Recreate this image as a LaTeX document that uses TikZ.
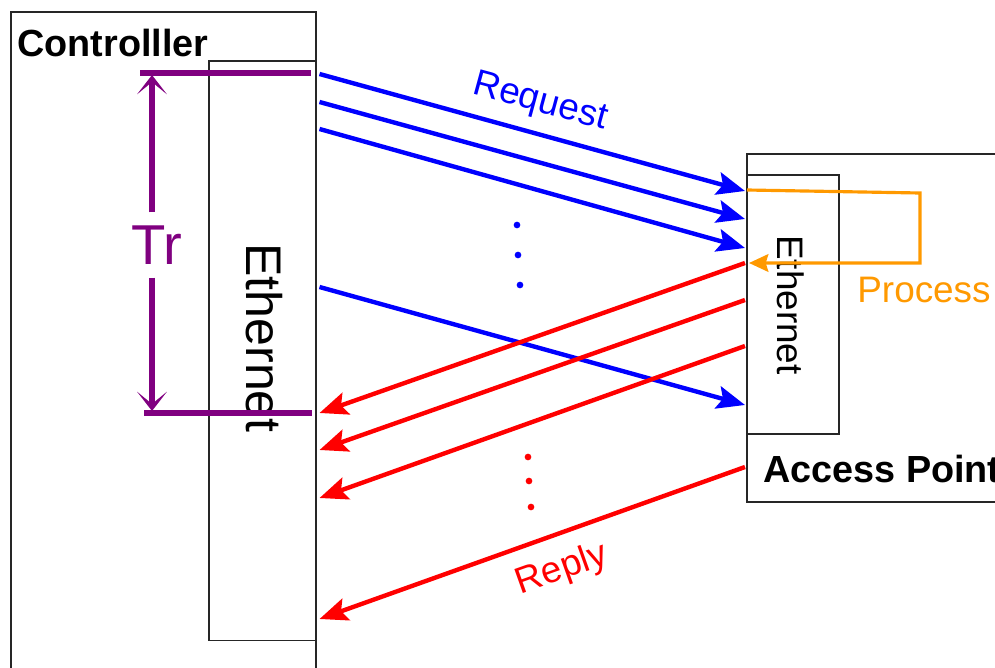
\documentclass[tikz,border=0pt]{standalone}
\usepackage{fontspec}
\setmainfont{Liberation Sans}
\usetikzlibrary{positioning}
\usetikzlibrary{arrows.meta}
\usetikzlibrary{calc}
\definecolor{reqcolor}{RGB}{0,0,255}
\definecolor{repcolor}{RGB}{255,0,0}
\definecolor{trcolor}{RGB}{128,0,128}
\definecolor{proccolor}{RGB}{255,153,0}

\begin{document}
\begin{tikzpicture}[
    x=0.02cm, y=-0.02cm,
    box/.style={rectangle, draw=black!85, line width=0.9pt, inner sep=0pt},
    bigtext/.style={font=\fontsize{28.5}{30}\selectfont},
    midtext/.style={font=\fontsize{21}{24}\selectfont},
    boldtext/.style={font=\fontsize{21.5}{24}\selectfont\bfseries, inner sep=0pt},
    reqarrow/.style={-{Stealth[length=16pt, width=13pt, inset=3pt]}, line width=2.5pt, reqcolor},
    reparrow/.style={-{Stealth[length=16pt, width=13pt, inset=3pt]}, line width=2.5pt, repcolor},
    trline/.style={line width=3.8pt, trcolor},
    trarrow/.style={-{Stealth[length=11pt, width=17pt, inset=7pt]}, line width=3.8pt, trcolor},
    procarrow/.style={-{Stealth[length=11pt, width=10pt, inset=1.5pt]}, line width=1.8pt, proccolor},
    dot/.style={circle, fill, inner sep=0pt, minimum size=3.8pt}
]
\clip (0,0) rectangle (995,667);

% Controller side
\node[box, anchor=north west, minimum width=6.1cm, minimum height=14cm] (ctrl) at (10,11) {};
\node[box, anchor=north east, minimum width=2.14cm, minimum height=11.6cm] (eth1) at ([yshift=-0.98cm]ctrl.north east) {};
\node[boldtext] (ctrltxt) at (113,43) {Controlller};
\node[bigtext, rotate=-90, inner sep=0pt] (eth1txt) at (264,338) {Ethernet};

% Access point side
\node[box, anchor=north west, minimum width=5.1cm, minimum height=6.96cm] (ap) at (746,153) {};
\node[box, anchor=north west, minimum width=1.84cm, minimum height=5.18cm] (eth2) at ([yshift=-0.42cm]ap.north west) {};
\node[midtext, rotate=-90, inner sep=0pt] (eth2txt) at (791,305) {Ethernet};
\node[boldtext, anchor=west] (aptxt) at (763,469) {Access Point};

% Round trip time
\coordinate (trtop) at (152,75);
\coordinate (trbot) at (152,411);
\node[font=\fontsize{32}{34}\selectfont, text=trcolor, inner sep=7.4pt] (tr) at (157,245) {Tr};
\draw[trline] ($(trtop)+(-12,-2)$) -- ($(eth1.east |- trtop)+(-6,-2)$);
\draw[trline] ($(trbot)+(-8,2)$) -- ($(eth1.east |- trbot)+(-5,2)$);
\draw[trarrow] (tr.north -| trtop) -- (trtop);
\draw[trarrow] (tr.south -| trbot) -- (trbot);

% Requests
\draw[reqarrow] ($(eth1.north east)+(3,14)$) -- ($(eth2.north west)+(-1,17)$);
\draw[reqarrow] ($(eth1.north east)+(3,42)$) -- ($(eth2.north west)+(-1,45)$);
\draw[reqarrow] ($(eth1.north east)+(3,69)$) -- ($(eth2.north west)+(-1,74)$);
\draw[reqarrow] ($(eth1.north east)+(3,227)$) -- ($(eth2.north west)+(-1,231)$);
\node[midtext, text=reqcolor, rotate=-15.2] (reqtxt) at (540,103) {Request};
\node[dot, reqcolor] (rd1) at (517,225) {};
\node[dot, reqcolor] (rd2) at (518,255) {};
\node[dot, reqcolor] (rd3) at (520,285) {};

% Processing at the access point
\draw[procarrow] ($(eth2.north west)+(1,16)$) -- ($(eth2.north west)+(174,19)$)
    -- ($(eth2.north west)+(174,89)$) -- ($(eth2.north west)+(3,89)$);
\node[midtext, text=proccolor, anchor=west, inner sep=0pt] (proctxt) at (857,290) {Process};

% Replies
\draw[reparrow] ($(eth2.north west)+(-1,89)$) -- ($(eth1.north east)+(3,353)$);
\draw[reparrow] ($(eth2.north west)+(-1,126)$) -- ($(eth1.north east)+(3,390)$);
\draw[reparrow] ($(eth2.north west)+(-1,172)$) -- ($(eth1.north east)+(3,438)$);
\draw[reparrow] ($(ap.north west)+(-1,314)$) -- ($(eth1.north east)+(3,559)$);
\node[midtext, text=repcolor, rotate=19.6] (reptxt) at (562,570) {Reply};
\node[dot, repcolor] (pd1) at (528,457) {};
\node[dot, repcolor] (pd2) at (529,481) {};
\node[dot, repcolor] (pd3) at (531,507) {};

\end{tikzpicture}
\end{document}
